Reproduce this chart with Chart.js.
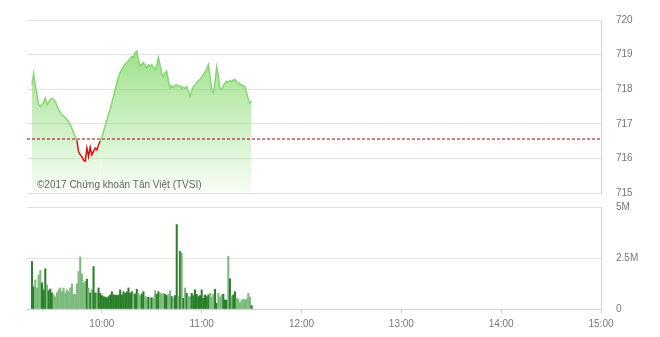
<!DOCTYPE html>
<html><head><meta charset="utf-8">
<script src="https://cdn.jsdelivr.net/npm/chart.js@4"></script>
<style>
html,body{margin:0;padding:0;background:#fff;}
#wrap{position:relative;width:660px;height:337px;overflow:hidden;}
#c1{position:absolute;left:0;top:0;}
#c2{position:absolute;left:0;top:200px;}
</style></head><body>
<div id="wrap"><canvas id="c1" width="660" height="200"></canvas><canvas id="c2" width="660" height="137"></canvas></div>
<script>
// ---- data ----
const sessionStart = "09:15";
const sessionEnd = "15:00";
const firstTime = "09:18"; // one point per minute from here
const refPrice = 716.56;
const prices = [
718.13, 718.45, 718.10, 717.85, 717.55, 717.50, 717.55, 717.62, 717.74, 717.55,
717.62, 717.70, 717.74, 717.70, 717.65, 717.52, 717.41, 717.33, 717.26, 717.22,
717.18, 717.12, 717.06, 716.97, 716.86, 716.75, 716.62, 716.52, 716.20, 716.10,
716.05, 715.95, 715.92, 716.30, 716.05, 716.32, 716.10, 716.20, 716.30, 716.25,
716.39, 716.50, 716.62, 716.78, 716.95, 717.10, 717.28, 717.42, 717.60, 717.80,
718.00, 718.18, 718.35, 718.48, 718.58, 718.65, 718.72, 718.77, 718.82, 718.88,
718.95, 718.92, 719.05, 719.10, 718.85, 718.66, 718.72, 718.77, 718.68, 718.62,
718.70, 718.66, 718.71, 718.63, 718.57, 718.70, 718.91, 718.70, 718.45, 718.37,
718.48, 718.52, 718.25, 718.03, 718.10, 718.05, 718.12, 718.13, 718.08, 718.10,
718.03, 718.06, 718.02, 718.08, 717.95, 717.79, 717.95, 718.08, 718.12, 718.20,
718.25, 718.28, 718.35, 718.42, 718.50, 718.58, 718.71, 718.40, 717.95, 717.90,
718.20, 718.65, 718.40, 718.00, 717.99, 718.10, 718.18, 718.23, 718.20, 718.25,
718.22, 718.26, 718.28, 718.22, 718.18, 718.15, 718.12, 718.10, 718.05, 717.90,
717.70, 717.60, 717.65
];
const volumes = [ // millions of shares
2.33, 1.08, 1.43, 1.03, 1.67, 1.89, 1.28, 0.94, 1.97, 1.18,
0.90, 0.98, 0.79, 0.69, 0.61, 0.80, 0.94, 1.03, 0.85, 1.03,
0.79, 0.94, 0.85, 1.03, 1.23, 0.72, 0.72, 1.23, 1.84, 2.55,
1.72, 1.28, 1.35, 1.46, 1.03, 0.79, 0.94, 2.08, 0.79, 0.79,
1.03, 0.77, 0.66, 0.61, 0.58, 0.54, 0.61, 0.69, 0.85, 0.69,
0.69, 0.66, 0.69, 0.94, 0.69, 0.85, 0.77, 0.85, 1.03, 0.77,
0.85, 0.74, 0.74, 0.97, 0.77, 0.66, 0.74, 0.85, 0.61, 0.56,
0.58, 0.53, 0.56, 0.53, 0.90, 0.72, 0.85, 0.77, 0.74, 0.77,
0.72, 0.66, 0.72, 0.90, 0.61, 0.53, 0.66, 4.14, 0.61, 2.82,
2.74, 0.53, 1.03, 0.77, 0.61, 0.61, 0.77, 0.66, 0.94, 0.72,
0.61, 0.66, 0.94, 0.53, 0.69, 0.61, 0.69, 0.77, 0.58, 0.72,
0.97, 0.28, 0.77, 0.58, 0.69, 0.72, 0.44, 0.44, 2.58, 1.48,
0.61, 0.69, 0.85, 0.53, 0.49, 0.31, 0.44, 0.49, 0.44, 0.49,
0.77, 0.58, 0.17
];
const priceTicks = [715, 716, 717, 718, 719, 720];
const volumeTicks = [0, 2.5, 5];
const volumeTickLabels = ["0", "2.5M", "5M"];
const timeTicks = ["10:00", "11:00", "12:00", "13:00", "14:00", "15:00"];
const watermark = "©2017 Chứng khoán Tân Việt (TVSI)";

// ---- helpers ----
const toMin = s => { const [h, m] = s.split(':').map(Number); return h * 60 + m; };
const fmt = m => String(Math.floor(m / 60)).padStart(2, '0') + ':' + String(m % 60).padStart(2, '0');
const xMin = toMin(sessionStart), xMax = toMin(sessionEnd), x0 = toMin(firstTime);
const pricePts = prices.map((p, i) => ({ x: x0 + i, y: p }));
const volPts = volumes.map((v, i) => ({ x: x0 + i, y: v }));
const volColors = prices.map((p, i) => (i === 0 || p >= prices[i - 1]) ? '#2b7f2b' : '#7dbb7d');

const FONT = { size: 10, family: "'Liberation Sans', Arial, sans-serif" };
const TICKC = '#777';
const GRIDC = '#e3e3e3';
const BORDERC = '#d2d2d2';
const AXW = 59;
const fitY = s => { s.width = AXW; s.paddingTop = 0; s.paddingBottom = 0; };

const watermarkPlugin = {
  id: 'wm',
  afterDatasetsDraw(chart) {
    const c = chart.ctx;
    c.save();
    c.font = "10px 'Liberation Sans', Arial, sans-serif";
    c.fillStyle = '#666';
    c.textBaseline = 'alphabetic';
    c.fillText(watermark, chart.chartArea.left + 10, chart.chartArea.bottom - 5);
    c.restore();
  }
};

new Chart(document.getElementById('c1'), {
  type: 'line',
  data: { datasets: [
    { data: [{ x: xMin, y: refPrice }, { x: xMax, y: refPrice }], borderColor: '#a80000', borderWidth: 1,
      borderDash: [3, 2], pointRadius: 0, fill: false },
    { data: pricePts, borderColor: '#86d672', borderWidth: 1.5, pointRadius: 0, tension: 0, fill: 'start',
      backgroundColor: ctx => {
        const ca = ctx.chart.chartArea; if (!ca) return 'rgba(0,0,0,0)';
        const g = ctx.chart.ctx.createLinearGradient(0, ca.top, 0, ca.bottom);
        g.addColorStop(0, 'rgba(118,214,92,0.85)');
        g.addColorStop(1, 'rgba(118,214,92,0.05)');
        return g;
      },
      segment: { borderColor: ctx => ((ctx.p0.parsed.y + ctx.p1.parsed.y) / 2 < refPrice ? '#e01010' : undefined) } }
  ] },
  options: {
    responsive: false, animation: false,
    layout: { padding: { left: 27, top: 20, bottom: 7, right: 0 } },
    plugins: { legend: { display: false }, tooltip: { enabled: false } },
    scales: {
      x: { type: 'linear', min: xMin, max: xMax, display: false },
      y: { position: 'right', min: priceTicks[0], max: priceTicks[priceTicks.length - 1],
        afterBuildTicks: s => { s.ticks = priceTicks.map(v => ({ value: v })); },
        ticks: { padding: 15, color: TICKC, font: FONT },
        grid: { color: GRIDC, drawTicks: false },
        border: { display: true, color: BORDERC },
        afterFit: fitY }
    }
  },
  plugins: [watermarkPlugin]
});

new Chart(document.getElementById('c2'), {
  type: 'bar',
  data: { datasets: [{ data: volPts, backgroundColor: volColors, barThickness: 1.4, borderWidth: 0 }] },
  options: {
    responsive: false, animation: false,
    layout: { padding: { left: 27, top: 7, bottom: 0, right: 0 } },
    plugins: { legend: { display: false }, tooltip: { enabled: false } },
    scales: {
      x: { type: 'linear', min: xMin, max: xMax, offset: false,
        afterBuildTicks: s => { s.ticks = timeTicks.map(t => ({ value: toMin(t) })); },
        ticks: { callback: v => fmt(v), color: TICKC, padding: 5, maxRotation: 0, autoSkip: false, font: FONT },
        grid: { drawOnChartArea: false, drawTicks: true, tickLength: 4, color: BORDERC, offset: false },
        border: { color: BORDERC },
        afterFit: s => { s.height = 28; s.paddingLeft = 0; s.paddingRight = 0; } },
      y: { position: 'right', min: volumeTicks[0], max: volumeTicks[volumeTicks.length - 1],
        afterBuildTicks: s => { s.ticks = volumeTicks.map(v => ({ value: v })); },
        ticks: { padding: 15, color: TICKC, font: FONT, callback: v => volumeTickLabels[volumeTicks.indexOf(v)] },
        grid: { color: GRIDC, drawTicks: false },
        border: { display: true, color: BORDERC },
        afterFit: fitY }
    }
  }
});
</script>
</body></html>
